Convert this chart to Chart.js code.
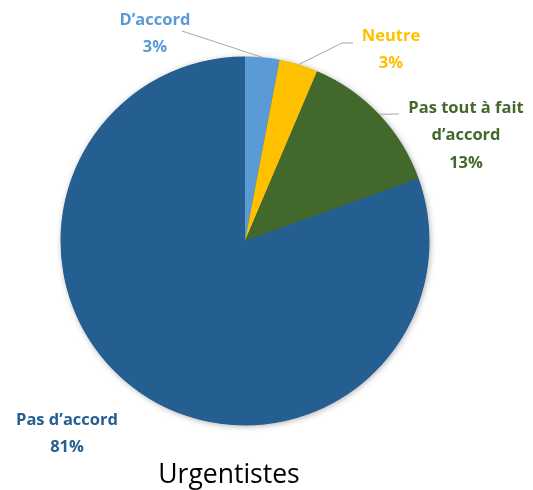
<!DOCTYPE html>
<html><head><meta charset="utf-8">
<script src="https://cdn.jsdelivr.net/npm/chart.js@4"></script>
<style>html,body{margin:0;padding:0;background:#fff}#w{width:533px;height:490px}</style>
</head><body><div id="w"><canvas id="c" width="533" height="490"></canvas></div>
<script>
const categories = ["D\u2019accord", "Neutre", "Pas tout \u00e0 fait d\u2019accord", "Pas d\u2019accord"];
const values = [3.0, 3.4, 13.1, 80.5];
const colors = ["#5B9BD5", "#FFC000", "#43682B", "#255E91"];
const labelLines = [["D\u2019accord"], ["Neutre"], ["Pas tout \u00e0 fait", "d\u2019accord"], ["Pas d\u2019accord"]];
const chartTitle = "Urgentistes";

// label layout: text center positions and leader line path
const labelPos = [
  {x:155, y:20, line:[[182,31]]},
  {x:391, y:36, line:[[353,43],[342,43]]},
  {x:466, y:108, line:[[399,114]]},
  {x:67, y:420, line:null}
];

const labelPlugin = {
  id:'lbls',
  afterDatasetsDraw(chart){
    const ctx = chart.ctx;
    const meta = chart.getDatasetMeta(0);
    const total = values.reduce((a,b)=>a+b,0);
    ctx.save();
    meta.data.forEach((arc,i)=>{
      const p = labelPos[i];
      const mid = (arc.startAngle+arc.endAngle)/2;
      const ex = arc.x + Math.cos(mid)*arc.outerRadius;
      const ey = arc.y + Math.sin(mid)*arc.outerRadius;
      if (p.line){
        ctx.strokeStyle='#A6A6A6'; ctx.lineWidth=1;
        ctx.beginPath();
        ctx.moveTo(p.line[0][0], p.line[0][1]);
        for (let k=1;k<p.line.length;k++) ctx.lineTo(p.line[k][0],p.line[k][1]);
        ctx.lineTo(ex, ey);
        ctx.stroke();
      }
      ctx.fillStyle = colors[i];
      ctx.font = '700 16.5px "Open Sans"';
      ctx.textAlign='center'; ctx.textBaseline='middle';
      const lines = labelLines[i].concat([Math.round(values[i]/total*100)+'%']);
      lines.forEach((t,k)=>ctx.fillText(t, p.x, p.y + k*27.5));
    });
    ctx.fillStyle='#000';
    ctx.font='26.5px "Open Sans"';
    ctx.textAlign='center'; ctx.textBaseline='middle';
    ctx.fillText(chartTitle, 229, 475);
    ctx.restore();
  }
};
const shadowPlugin = {
  id:'shd',
  beforeDatasetsDraw(chart){
    const ctx=chart.ctx;
    const arc = chart.getDatasetMeta(0).data[0];
    if(!arc) return;
    ctx.save();
    ctx.shadowColor='rgba(0,0,0,0.35)'; ctx.shadowBlur=6; ctx.shadowOffsetX=1; ctx.shadowOffsetY=1;
    ctx.fillStyle='#255E91';
    ctx.beginPath(); ctx.arc(arc.x, arc.y, arc.outerRadius-0.5, 0, Math.PI*2); ctx.fill();
    ctx.restore();
  }
};

new Chart(document.getElementById('c'), {
  type:'pie',
  data:{labels:categories, datasets:[{data:values, backgroundColor:colors, borderWidth:0, hoverOffset:0}]},
  options:{
    responsive:false, animation:false,
    layout:{padding:{left:60.5, right:103.5, top:56.5, bottom:64.5}},
    plugins:{legend:{display:false}, tooltip:{enabled:false}}
  },
  plugins:[shadowPlugin, labelPlugin]
});
</script></body></html>
